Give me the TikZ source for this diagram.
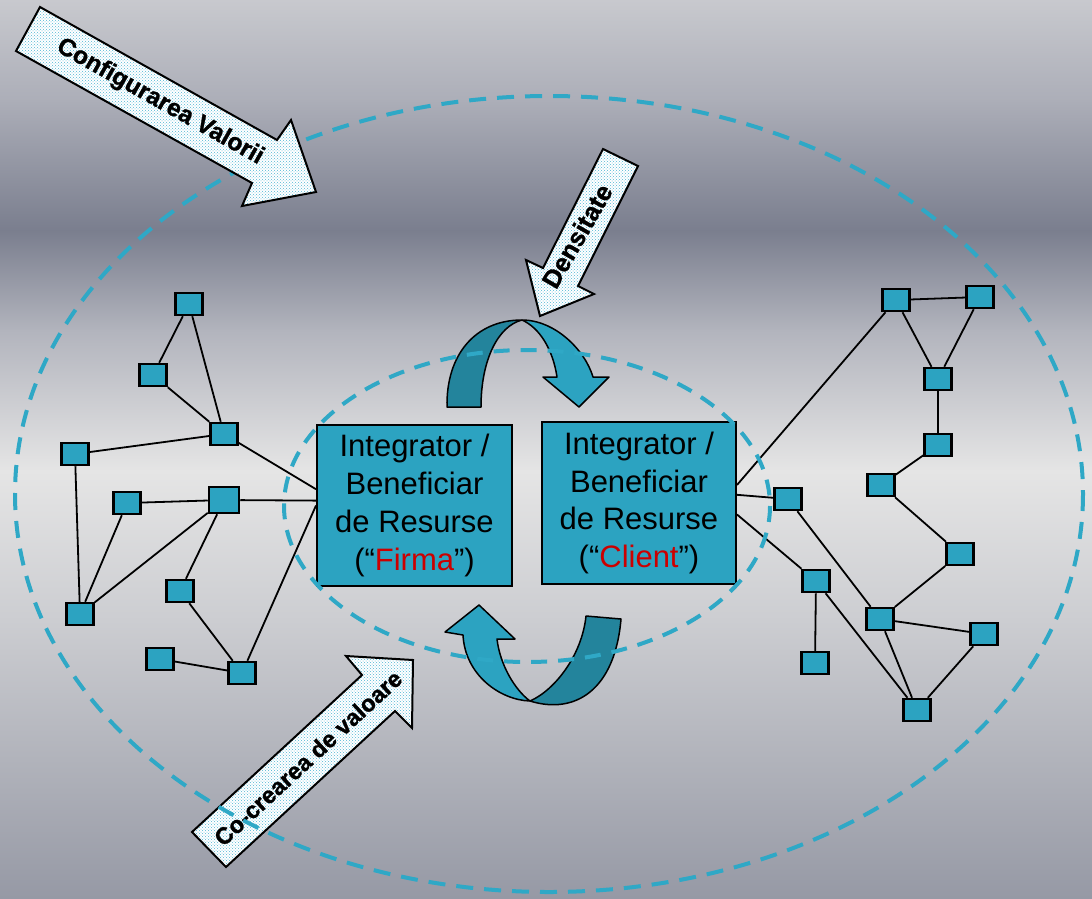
\documentclass[tikz,border=0pt]{standalone}
\usepackage{fontspec}
\setmainfont{Liberation Sans}
\newfontfamily\labelfont[FakeBold=1.2]{Liberation Sans Bold}
\usetikzlibrary{patterns,calc}

\definecolor{boxcol}{RGB}{44,163,193}
\definecolor{darkrib}{RGB}{35,132,156}
\definecolor{dashcol}{RGB}{47,168,198}
\definecolor{dotcol}{RGB}{80,182,212}
\definecolor{firmred}{RGB}{204,0,0}
\definecolor{bgA}{RGB}{200,201,206}
\definecolor{bgB}{RGB}{172,174,184}
\definecolor{bgC}{RGB}{122,126,142}
\definecolor{bgD}{RGB}{178,180,189}
\definecolor{bgE}{RGB}{229,229,229}
\definecolor{bgF}{RGB}{204,205,209}
\definecolor{bgG}{RGB}{150,153,165}

\tikzset{
  bgband/.style={draw=none},
  dashring/.style={draw=dashcol, line width=4pt, dash pattern=on 17pt off 11pt},
  patarrow/.style={draw=black, line width=2pt, line join=miter,
    preaction={fill=white}, pattern=crosshatch dots, pattern color=dotcol},
  arrowlabel/.style={inner sep=0pt},
  mainbox/.style={draw=black, line width=2pt, fill=boxcol, align=center,
    inner sep=0pt, font=\fontsize{31}{37.7}\selectfont},
  smallbox/.style={draw=black, line width=2.5pt, fill=boxcol, inner sep=0pt,
    minimum width=27pt, minimum height=22pt},
  link/.style={draw=black, line width=1.8pt},
  ribbonlight/.style={fill=boxcol, draw=black, line width=1.5pt, line join=round},
  ribbondark/.style={fill=darkrib, draw=black, line width=1.5pt, line join=round}
}

\begin{document}
\begin{tikzpicture}[x=1pt, y=-1pt]
\useasboundingbox (0,0) rectangle (1092,898);

% background: vertical bands of soft grey
\shade[bgband, top color=bgA, bottom color=bgB] (0,0) rectangle (1092,101);
\shade[bgband, top color=bgB, bottom color=bgC] (0,100) rectangle (1092,231);
\shade[bgband, top color=bgC, bottom color=bgD] (0,230) rectangle (1092,331);
\shade[bgband, top color=bgD, bottom color=bgE] (0,330) rectangle (1092,471);
\shade[bgband, top color=bgE, bottom color=bgF] (0,470) rectangle (1092,621);
\shade[bgband, top color=bgF, bottom color=bgG] (0,620) rectangle (1092,898);

% "Co-crearea de valoare" block arrow (under the outer ring)
\draw[patarrow] (192,832) -- (362,675) -- (346,656) -- (413,660) -- (412,728)
  -- (395,711) -- (226,867) -- cycle;
\node[arrowlabel, rotate=42.7, font=\labelfont\fontsize{23.5}{27}\selectfont]
  (cocreare) at (308,758) {Co-crearea de valoare};

% outer ring
\draw[dashring] (549,494) ellipse [x radius=534, y radius=398];

% "Configurarea Valorii" block arrow
\draw[patarrow] (40,7) -- (277,140) -- (291,120) -- (316,192) -- (242,206)
  -- (252,183) -- (16,51) -- cycle;
\node[arrowlabel, rotate=-29.3, font=\labelfont\fontsize{24.5}{28}\selectfont]
  (config) at (160,102) {Configurarea Valorii};

% "Densitate" block arrow
\draw[patarrow] (603,149) -- (638,166) -- (578,286) -- (594,294) -- (540,316)
  -- (526,260) -- (543,268) -- cycle;
\node[arrowlabel, rotate=60, font=\labelfont\fontsize{25.5}{29}\selectfont]
  (densitate) at (577,236) {Densitate};

% the two resource integrators
\node[mainbox, minimum width=195pt, minimum height=161pt] (firma) at (414.5,505.5)
  {Integrator /\\Beneficiar\\de Resurse\\(“\textcolor{firmred}{Firma}”)};
\node[mainbox, minimum width=194pt, minimum height=162pt] (client) at (639,503)
  {Integrator /\\Beneficiar\\de Resurse\\(“\textcolor{firmred}{Client}”)};

% left network
\node[smallbox] (a1) at (189,304) {};
\node[smallbox] (a2) at (153,375) {};
\node[smallbox] (a3) at (224,434) {};
\node[smallbox] (a4) at (75,454) {};
\node[smallbox] (a5) at (127,503) {};
\node[smallbox, minimum width=30pt, minimum height=26pt] (a6) at (224,500) {};
\node[smallbox] (a7) at (180,591) {};
\node[smallbox] (a8) at (80,614) {};
\node[smallbox] (a9) at (160,659) {};
\node[smallbox] (a10) at (242,673) {};

% right network
\node[smallbox] (b1) at (896,300) {};
\node[smallbox] (b2) at (980,297) {};
\node[smallbox] (b3) at (938,379) {};
\node[smallbox] (b4) at (938,445) {};
\node[smallbox] (b5) at (881,485) {};
\node[smallbox] (b6) at (788,499) {};
\node[smallbox] (b7) at (960,554) {};
\node[smallbox] (b8) at (816,581) {};
\node[smallbox] (b9) at (880,619) {};
\node[smallbox] (b10) at (984,634) {};
\node[smallbox] (b11) at (815,663) {};
\node[smallbox] (b12) at (917,710) {};

% attachment points on the integrator boxes
\coordinate (fA) at ($(firma.north west)!0.40!(firma.south west)$);
\coordinate (fB) at ($(firma.north west)!0.47!(firma.south west)$);
\coordinate (fC) at ($(firma.north west)!0.50!(firma.south west)$);
\coordinate (cA) at ($(client.north east)!0.39!(client.south east)$);
\coordinate (cB) at ($(client.north east)!0.45!(client.south east)$);
\coordinate (cC) at ($(client.north east)!0.57!(client.south east)$);

% left links
\draw[link] (a1) -- (a2);
\draw[link] (a1) -- (a3);
\draw[link] (a2) -- (a3);
\draw[link] (a3) -- (fA);
\draw[link] (a4) -- (a3);
\draw[link] (a4) -- (a8);
\draw[link] (a5) -- (a6);
\draw[link] (a5) -- (a8);
\draw[link] (a6) -- (a8);
\draw[link] (a6) -- (fB);
\draw[link] (a6) -- (a7);
\draw[link] (a7) -- (a10);
\draw[link] (a9) -- (a10);
\draw[link] (a10) -- (fC);

% right links
\draw[link] (cA) -- (b1);
\draw[link] (cB) -- (b6);
\draw[link] (cC) -- (b8);
\draw[link] (b1) -- (b2);
\draw[link] (b1) -- (b3);
\draw[link] (b2) -- (b3);
\draw[link] (b3) -- (b4);
\draw[link] (b4) -- (b5);
\draw[link] (b5) -- (b7);
\draw[link] (b7) -- (b9);
\draw[link] (b6) -- (b9);
\draw[link] (b9) -- (b10);
\draw[link] (b9) -- (b12);
\draw[link] (b10) -- (b12);
\draw[link] (b8) -- (b11);
\draw[link] (b8) -- (b12);

% upper turning ribbon (left to right)
\draw[ribbondark] (447,407) .. controls (446,355) and (475,320) .. (522,320)
  .. controls (498,326) and (481,360) .. (481,407) -- cycle;
\draw[ribbonlight] (522,320) .. controls (555,320) and (585,350) .. (593,377)
  -- (609,377) -- (579,407) -- (543,377) -- (557,377)
  .. controls (553,350) and (540,328) .. (522,320) -- cycle;

% lower turning ribbon (right to left)
\draw[ribbondark] (530,701) .. controls (575,715) and (615,690) .. (621,619)
  -- (586,616) .. controls (582,655) and (555,690) .. (530,701) -- cycle;
\draw[ribbonlight] (530,701) .. controls (500,700) and (465,675) .. (463,635)
  -- (445,632) -- (479,605) -- (515,639) -- (497,639)
  .. controls (500,665) and (515,690) .. (530,701) -- cycle;

% inner ring
\draw[dashring, dash pattern=on 16pt off 11pt] (527,506) ellipse [x radius=243, y radius=156];
\end{tikzpicture}
\end{document}
